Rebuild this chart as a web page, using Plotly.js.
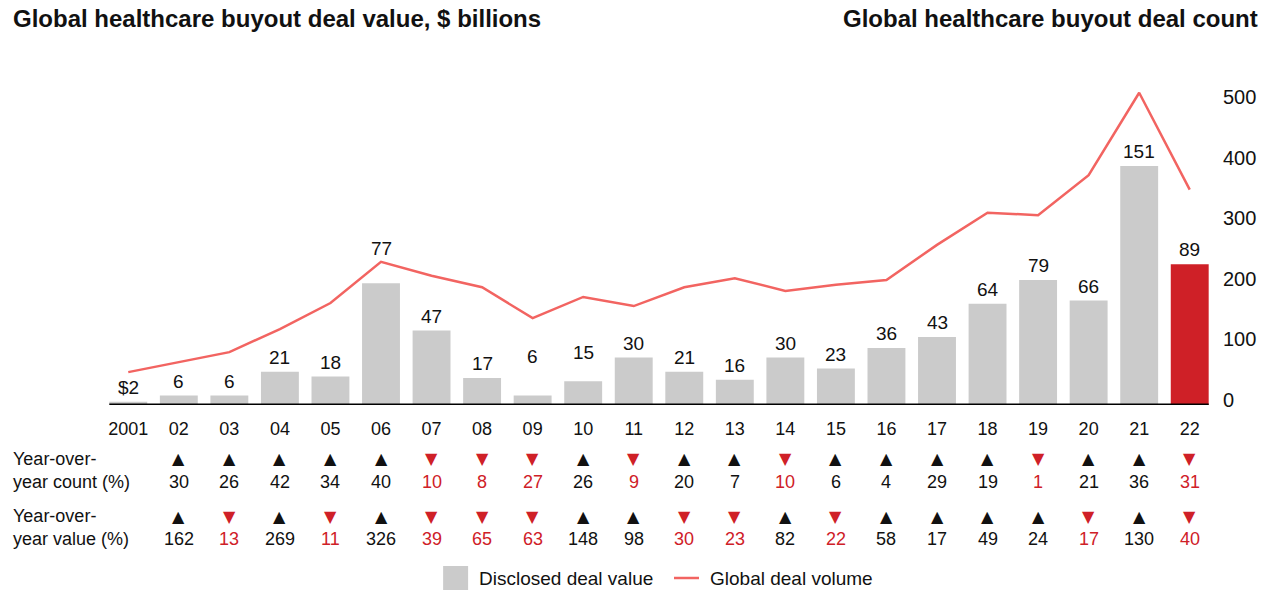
<!DOCTYPE html>
<html>
<head>
<meta charset="utf-8">
<script src="https://cdn.plot.ly/plotly-3.0.1.min.js"></script>
<style>html,body{margin:0;padding:0;background:#fff;}#chart{width:1270px;height:590px;}</style>
</head>
<body>
<div id="chart"></div>
<script>
// ---- data ----
const years = ['2001','02','03','04','05','06','07','08','09','10','11','12','13','14','15','16','17','18','19','20','21','22'];
const dealValue = [2,6,6,21,18,77,47,17,6,15,30,21,16,30,23,36,43,64,79,66,151,89];
const dealCount = [46,63,79,117,160,228,205,186,135,170,155,186,201,180,190,198,256,309,305,371,507,347];
// year-over-year changes, starting with 2002 (2001 has none)
const yoyCount = [30,26,42,34,40,-10,-8,-27,26,-9,20,7,-10,6,4,29,19,-1,21,36,-31];
const yoyValue = [162,-13,269,-11,326,-39,-65,-63,148,98,-30,-23,82,-22,58,17,49,24,-17,130,-40];
const countTicks = [0,100,200,300,400,500];

// ---- style ----
const GRAY = '#cbcbcb', RED = '#cf2027', LINE = '#f26461', INK = '#111111';
const FONT = 'Liberation Sans, Arial, Helvetica, sans-serif';
const FS = 18;
const L = 102.7, R = 1215.3, T = 60, B = 405;
const px = x => (x - L) / (R - L);
const py = y => (B - y) / (B - T);
// extra lift (px) of a few value labels that sit clear of the line in the original
const labelLift = [0,0,0,0,0,20,0,0,25,14,0,0,0,0,0,0,0,0,0,0,0,0];

const barColors = dealValue.map((v, i) => i === dealValue.length - 1 ? RED : GRAY);
const barText = dealValue.map((v, i) => i === 0 ? '$' + v : String(v));
const xIdx = years.map((y, i) => i);

const traces = [
  {type: 'bar', x: xIdx, y: dealValue, marker: {color: barColors}, width: 0.75,
   hoverinfo: 'skip', showlegend: false},
  {type: 'scatter', mode: 'lines', x: xIdx, y: dealCount, yaxis: 'y2',
   line: {color: LINE, width: 2.5}, hoverinfo: 'skip', showlegend: false}
];

const ann = [];
const shapes = [];
// bar value labels
dealValue.forEach((v, i) => {
  ann.push({text: barText[i], xref: 'x', yref: 'y', x: i, y: v, xanchor: 'center', yanchor: 'middle',
    yshift: 14.5 + labelLift[i], showarrow: false, font: {family: FONT, size: 19, color: INK}});
});
// titles
ann.push({text: '<b>Global healthcare buyout deal value, $ billions</b>', xref: 'paper', yref: 'paper',
  x: px(11), y: py(18), xanchor: 'left', yanchor: 'middle', showarrow: false,
  font: {family: FONT, size: 24, color: INK}});
ann.push({text: '<b>Global healthcare buyout deal count</b>', xref: 'paper', yref: 'paper',
  x: px(1260), y: py(18), xanchor: 'right', yanchor: 'middle', showarrow: false,
  font: {family: FONT, size: 24, color: INK}});
// row labels
ann.push({text: 'Year-over-<br>year count (%)', xref: 'paper', yref: 'paper', x: px(11), y: py(470),
  xanchor: 'left', yanchor: 'middle', align: 'left', showarrow: false, font: {family: FONT, size: FS, color: INK}});
ann.push({text: 'Year-over-<br>year value (%)', xref: 'paper', yref: 'paper', x: px(11), y: py(527),
  xanchor: 'left', yanchor: 'middle', align: 'left', showarrow: false, font: {family: FONT, size: FS, color: INK}});

function addRow(arr, yTri, yNum) {
  arr.forEach((v, i) => {
    const up = v >= 0;
    const col = up ? INK : RED;
    const xc = i + 1;
    ann.push({text: up ? '▲' : '▼', xref: 'x', yref: 'paper', x: xc, y: py(yTri),
      xanchor: 'center', yanchor: 'middle', showarrow: false,
      font: {family: 'DejaVu Sans', size: 16, color: col}});
    ann.push({text: String(Math.abs(v)), xref: 'x', yref: 'paper', x: xc, y: py(yNum),
      xanchor: 'center', yanchor: 'middle', showarrow: false,
      font: {family: FONT, size: FS, color: col}});
  });
}
addRow(yoyCount, 458, 482);
addRow(yoyValue, 516, 539);

// baseline
shapes.push({type: 'line', xref: 'x', yref: 'y', x0: -0.375, x1: years.length - 1 + 0.375, y0: 0, y1: 0,
  line: {color: '#000', width: 3}});
// custom legend
shapes.push({type: 'rect', xref: 'paper', yref: 'paper', x0: px(443), x1: px(468), y0: py(591), y1: py(566),
  fillcolor: GRAY, line: {width: 0}});
shapes.push({type: 'line', xref: 'paper', yref: 'paper', x0: px(674), x1: px(699), y0: py(578), y1: py(578),
  line: {color: LINE, width: 2.5}});
ann.push({text: 'Disclosed deal value', xref: 'paper', yref: 'paper', x: px(477), y: py(578),
  xanchor: 'left', yanchor: 'middle', showarrow: false, font: {family: FONT, size: 19, color: INK}});
ann.push({text: 'Global deal volume', xref: 'paper', yref: 'paper', x: px(708), y: py(578),
  xanchor: 'left', yanchor: 'middle', showarrow: false, font: {family: FONT, size: 19, color: INK}});

const layout = {
  width: 1270, height: 590,
  margin: {l: L, r: 1270 - R, t: T, b: 590 - B, pad: 0},
  paper_bgcolor: '#fff', plot_bgcolor: 'rgba(0,0,0,0)',
  showlegend: false,
  font: {family: FONT, size: FS, color: INK},
  xaxis: {range: [-0.5, years.length - 0.5], tickvals: xIdx, ticktext: years, showgrid: false, zeroline: false,
    showline: false, ticks: '', ticklabelstandoff: 11, tickfont: {family: FONT, size: FS, color: INK}, fixedrange: true},
  yaxis: {range: [0, 218], visible: false, fixedrange: true},
  yaxis2: {overlaying: 'y', side: 'right', range: [-8.25, 561], tickvals: countTicks,
    showgrid: false, zeroline: false, showline: false, ticks: '', ticklabelstandoff: 7,
    tickfont: {family: FONT, size: 20, color: INK}, fixedrange: true},
  annotations: ann, shapes: shapes
};

Plotly.newPlot('chart', traces, layout, {displayModeBar: false, staticPlot: true});
</script>
</body>
</html>
